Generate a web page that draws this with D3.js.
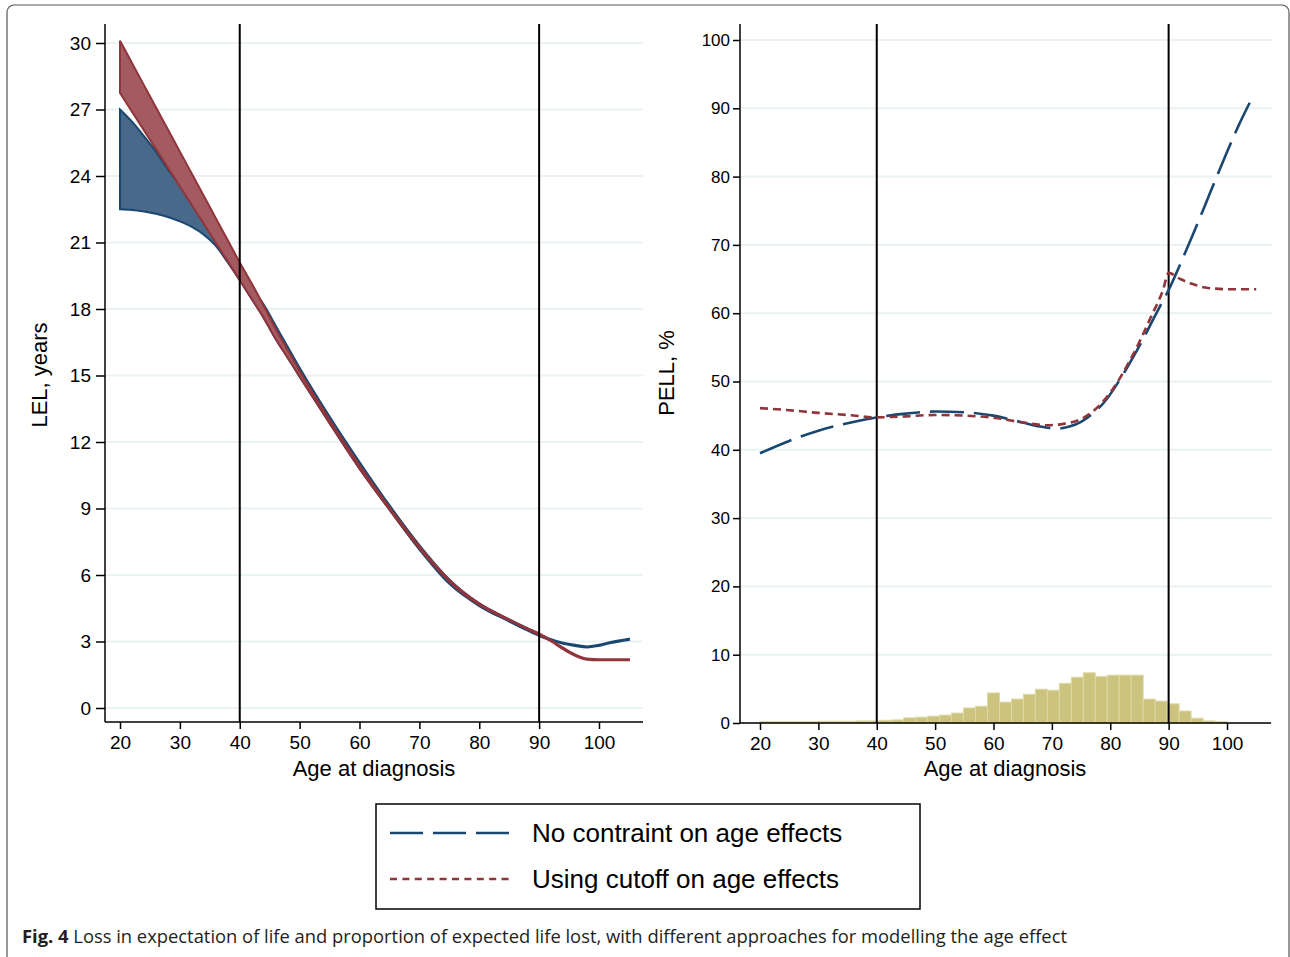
<!DOCTYPE html>
<meta charset="utf-8">
<style>
body { margin: 0; background: #fff; }
text { font-family: 'Liberation Sans', Arial, sans-serif; }
.grid line { stroke: #eaf2f3; stroke-width: 2; }
.axis path, .axis line { stroke: #000; stroke-width: 1.5; }
.axis text { font-size: 19px; fill: #000; }
.ttl { font-size: 22px; }
.legtext { font-size: 26px; }
</style>
<body>
<div id="fig"></div>
<script src="https://cdn.jsdelivr.net/npm/d3@7"></script>
<script>
// LEL panel: age grid and confidence bands
var lelAges = [20,22,24,26,28,30,32,34,36,38,40,42,44,46,48,50,55,60,65,70,75,80,85,88,90,92,94,96,98,100,102,105];
var noLo  = [22.5,22.47,22.4,22.3,22.15,21.95,21.7,21.35,20.85,20.1,19.3,18.45,17.6,16.65,15.8,14.95,12.85,10.8,8.95,7.15,5.6,4.6,3.9,3.5,3.25,3.05,2.9,2.8,2.73,2.8,2.93,3.07];
var noHi  = [27.0,26.45,25.8,25.1,24.3,23.6,22.85,22.0,21.15,20.35,19.55,18.9,18.2,17.25,16.3,15.35,13.15,11.1,9.15,7.35,5.8,4.72,4.0,3.6,3.33,3.1,2.95,2.85,2.78,2.85,2.98,3.12];
var cutLo = [27.75,26.9,26.06,25.22,24.37,23.53,22.68,21.84,20.99,20.15,19.3,18.45,17.6,16.65,15.8,14.95,12.85,10.8,8.95,7.2,5.7,4.65,3.95,3.55,3.3,3.0,2.65,2.35,2.18,2.15,2.15,2.15];
var cutHi = [30.1,29.1,28.1,27.1,26.1,25.1,24.1,23.1,22.1,21.1,20.1,19.15,18.15,17.1,16.15,15.2,13.0,10.95,9.05,7.3,5.78,4.72,4.0,3.6,3.37,3.05,2.72,2.42,2.23,2.2,2.2,2.2];

// PELL panel
var pellNoAges  = [20,25,30,35,40,45,50,55,60,65,68,71,73,75,77,79,81,83,85,87,89,90,92,94,96,98,100,102,104.3];
var pellNo      = [39.5,41.3,42.8,43.9,44.75,45.3,45.6,45.5,45.0,44.0,43.4,43.1,43.4,44.1,45.3,47.0,49.4,52.2,55.2,58.5,61.8,63.4,67.2,71.2,75.3,79.5,83.6,87.5,91.5];
var pellCutAges = [20,25,30,35,40,45,50,55,60,65,69,72,75,77,79,81,83,85,87,89,90,92,94,96,98,101,105];
var pellCut     = [46.1,45.8,45.4,45.1,44.75,44.9,45.1,45.0,44.7,44.0,43.6,43.8,44.5,45.6,47.3,49.6,52.5,55.8,59.5,63.3,65.9,65.0,64.3,63.8,63.6,63.5,63.5];

// age distribution (percent), 39 bins from 20 to 100
var histStart = 20, histEnd = 100;
var histPct = [0.2,0.2,0.2,0.2,0.2,0.25,0.25,0.25,0.3,0.3,
  0.4,0.45,0.75,0.85,1.0,1.15,1.45,2.2,2.45,4.4,
  3.05,3.5,4.2,4.95,4.8,5.8,6.7,7.35,6.8,7.0,
  7.0,7.0,3.5,3.2,2.8,1.75,0.7,0.3,0.2];

var xTicks = [20,30,40,50,60,70,80,90,100];
var lelTicks = [0,3,6,9,12,15,18,21,24,27,30];
var pellTicks = [0,10,20,30,40,50,60,70,80,90,100];
var cutoffs = [40, 90];

var navy = '#1a476f', maroon = '#90353b';

var svg = d3.select('#fig').append('svg')
  .attr('width', 1290).attr('height', 957);

svg.append('rect')
  .attr('x', 7).attr('y', 5).attr('width', 1282).attr('height', 970)
  .attr('rx', 7).attr('fill', '#fff').attr('stroke', '#555').attr('stroke-width', 1.2);

// ---------- left panel ----------
var xL = d3.scaleLinear().domain([20, 100]).range([120, 599]);
var yL = d3.scaleLinear().domain([0, 30]).range([708, 43]);
var left = svg.append('g');

left.append('g').attr('class', 'grid')
  .selectAll('line').data(lelTicks).join('line')
  .attr('x1', 105).attr('x2', 643)
  .attr('y1', d => yL(d)).attr('y2', d => yL(d));

function band(lo, hi, xs, ys) {
  return d3.area()
    .x((d, i) => xs(lelAges[i]))
    .y0((d, i) => ys(lo[i]))
    .y1((d, i) => ys(hi[i]))
    .curve(d3.curveMonotoneX)(lelAges);
}

left.append('path').attr('d', band(noLo, noHi, xL, yL))
  .attr('fill', '#49698a').attr('stroke', navy).attr('stroke-width', 2);
left.append('path').attr('d', band(cutLo, cutHi, xL, yL))
  .attr('fill', '#a35a60').attr('stroke', maroon).attr('stroke-width', 2);

left.selectAll('.cut').data(cutoffs).join('line')
  .attr('x1', d => xL(d)).attr('x2', d => xL(d))
  .attr('y1', 24).attr('y2', 722)
  .attr('stroke', '#000').attr('stroke-width', 2);

var yAxL = left.append('g').attr('class', 'axis').attr('transform', 'translate(105,0)')
  .call(d3.axisLeft(yL).tickValues(lelTicks).tickSize(9).tickPadding(5));
yAxL.select('.domain').attr('d', 'M0,24V722');

var xAxL = left.append('g').attr('class', 'axis').attr('transform', 'translate(0,722)')
  .call(d3.axisBottom(xL).tickValues(xTicks).tickSize(7).tickPadding(7));
xAxL.select('.domain').attr('d', 'M105,0H643');

left.append('text').attr('class', 'ttl')
  .attr('transform', 'translate(47,375) rotate(-90)')
  .attr('text-anchor', 'middle').text('LEL, years');
left.append('text').attr('class', 'ttl')
  .attr('x', 374).attr('y', 776).attr('text-anchor', 'middle')
  .text('Age at diagnosis');

// ---------- right panel ----------
var xR = d3.scaleLinear().domain([20, 100]).range([760, 1227]);
var yR = d3.scaleLinear().domain([0, 100]).range([723, 40]);
var right = svg.append('g');

right.append('g').attr('class', 'grid')
  .selectAll('line').data(pellTicks).join('line')
  .attr('x1', 740).attr('x2', 1272)
  .attr('y1', d => yR(d)).attr('y2', d => yR(d));

var binW = (histEnd - histStart) / histPct.length;
right.selectAll('.bar').data(histPct).join('rect')
  .attr('x', (d, i) => xR(histStart + i * binW))
  .attr('width', (d, i) => xR(histStart + (i + 1) * binW) - xR(histStart + i * binW))
  .attr('y', d => yR(d))
  .attr('height', d => yR(0) - yR(d))
  .attr('fill', '#cbc37e').attr('stroke', '#ddd8a4').attr('stroke-width', 1);

right.selectAll('.cut').data(cutoffs).join('line')
  .attr('x1', d => xR(d)).attr('x2', d => xR(d))
  .attr('y1', 24).attr('y2', 723)
  .attr('stroke', '#000').attr('stroke-width', 2);

var pellLine = d3.line().x(d => xR(d[0])).y(d => yR(d[1])).curve(d3.curveMonotoneX);
right.append('path')
  .attr('d', pellLine(pellNoAges.map((a, i) => [a, pellNo[i]])))
  .attr('fill', 'none').attr('stroke', navy).attr('stroke-width', 2.6)
  .attr('stroke-dasharray', '34,10');
right.append('path')
  .attr('d', pellLine(pellCutAges.map((a, i) => [a, pellCut[i]])))
  .attr('fill', 'none').attr('stroke', maroon).attr('stroke-width', 2.6)
  .attr('stroke-dasharray', '8,5');

var yAxR = right.append('g').attr('class', 'axis').attr('transform', 'translate(740,0)')
  .call(d3.axisLeft(yR).tickValues(pellTicks).tickSize(7).tickPadding(3));
yAxR.select('.domain').attr('d', 'M0,24V723');
yAxR.selectAll('text').style('font-size', '17px');

var xAxR = right.append('g').attr('class', 'axis').attr('transform', 'translate(0,723)')
  .call(d3.axisBottom(xR).tickValues(xTicks).tickSize(7).tickPadding(7));
xAxR.select('.domain').attr('d', 'M740,0H1271');

right.append('text').attr('class', 'ttl')
  .attr('transform', 'translate(674,373) rotate(-90)')
  .attr('text-anchor', 'middle').text('PELL, %');
right.append('text').attr('class', 'ttl')
  .attr('x', 1005).attr('y', 776).attr('text-anchor', 'middle')
  .text('Age at diagnosis');

// ---------- legend ----------
var leg = svg.append('g');
leg.append('rect').attr('x', 376).attr('y', 804).attr('width', 544).attr('height', 105)
  .attr('fill', '#fff').attr('stroke', '#000').attr('stroke-width', 1.5);
var legItems = [
  {label: 'No contraint on age effects', color: navy, dash: '33,10', y: 833},
  {label: 'Using cutoff on age effects', color: maroon, dash: '7,5.4', y: 879}
];
legItems.forEach(function(it) {
  leg.append('line').attr('x1', 390).attr('x2', 512).attr('y1', it.y).attr('y2', it.y)
    .attr('stroke', it.color).attr('stroke-width', 2.6).attr('stroke-dasharray', it.dash);
  leg.append('text').attr('class', 'legtext').attr('x', 532).attr('y', it.y + 9)
    .text(it.label);
});

// ---------- caption ----------
var cap = svg.append('text').attr('x', 22).attr('y', 943)
  .attr('textLength', 1045).attr('lengthAdjust', 'spacingAndGlyphs')
  .style('font-family', "'Open Sans', sans-serif").style('font-size', '18px').attr('fill', '#231f20');
cap.append('tspan').style('font-weight', 'bold').text('Fig. 4');
cap.append('tspan').text(' Loss in expectation of life and proportion of expected life lost, with different approaches for modelling the age effect');
</script>
</body>
